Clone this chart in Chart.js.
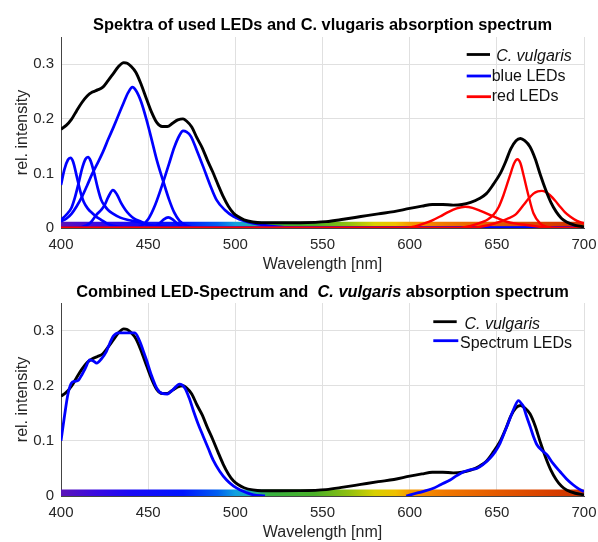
<!DOCTYPE html>
<html><head><meta charset="utf-8">
<script src="https://cdn.jsdelivr.net/npm/chart.js@4.4.1/dist/chart.umd.min.js"></script>
<style>
html,body{margin:0;padding:0;background:#fff;width:598px;height:542px;overflow:hidden}
.wrap{position:absolute;left:0;width:598px}
</style></head><body>
<div class="wrap" style="top:0;height:274px"><canvas id="c1"></canvas></div>
<div class="wrap" style="top:270px;height:272px"><canvas id="c2"></canvas></div>
<script>
// ---------- data ----------
const xTickValues = [400, 450, 500, 550, 600, 650, 700];
const yTickValues = [0, 0.1, 0.2, 0.3];

// C. vulgaris absorption spectrum
const absWl = [400,403,406,409,412,415,418,421,424,427,430,433,436,438,440,443,446,449,452,455,458,461,464,467,470,472,475,478,481,484,487,490,493,496,499,502,505,510,515,525,537,552,562,572,582,591,600,607,613,619,625,630,635,640,644,648,652,655,658,661,663.5,666,669,672,675,678,681,684,687,690,695,700];
const absVals = [0.181,0.188,0.199,0.215,0.230,0.242,0.249,0.253,0.258,0.270,0.283,0.296,0.303,0.302,0.297,0.285,0.263,0.237,0.212,0.193,0.186,0.186,0.192,0.198,0.200,0.196,0.185,0.165,0.147,0.124,0.103,0.080,0.058,0.040,0.027,0.020,0.015,0.011,0.0095,0.0095,0.0097,0.0116,0.016,0.021,0.026,0.030,0.036,0.040,0.043,0.043,0.042,0.043,0.047,0.054,0.063,0.080,0.100,0.121,0.145,0.160,0.164,0.160,0.149,0.127,0.097,0.070,0.047,0.030,0.018,0.011,0.005,0.002];

// blue LEDs
const blue1Wl = [400,402,404,405.4,407,409,411,413,415.5,418,420.5,423,426,430,436,445,700];
const blue1   = [0.079,0.108,0.125,0.1285,0.121,0.095,0.068,0.048,0.035,0.027,0.020,0.015,0.009,0.004,0.001,0,0];
const blue2Wl = [400,403,406,408,410,412,414,415.5,417,419,421,423,425,427,430,434,438,444,450,458,470,700];
const blue2   = [0.015,0.024,0.037,0.056,0.081,0.108,0.126,0.130,0.123,0.101,0.074,0.052,0.041,0.033,0.026,0.019,0.015,0.0115,0.006,0.002,0,0];
const blue3Wl = [400,410,414,417,420.3,423,425,427,429.8,432,434.6,437,439.4,442,446,450,456,465,700];
const blue3   = [0,0,0.004,0.010,0.024,0.033,0.042,0.056,0.0695,0.062,0.045,0.033,0.024,0.017,0.0115,0.006,0.002,0,0];
const blue4Wl = [400,403,406,409,412,415,418,421,424,427,430,433,436,438.5,441,443,446,449,452,455,458.7,462,465,468,472,478,700];
const blue4   = [0.012,0.017,0.026,0.040,0.057,0.078,0.100,0.119,0.139,0.162,0.184,0.207,0.230,0.248,0.258,0.252,0.231,0.199,0.162,0.124,0.085,0.052,0.028,0.013,0.004,0,0];
const blue5Wl = [400,450,454,457,459,461.5,464,466,469,473,700];
const blue5   = [0,0,0.003,0.010,0.016,0.0195,0.016,0.010,0.003,0,0];
const blue6Wl = [400,440,446,450,454,458.7,462,465,468,470,472,474.5,477.8,481.6,485.5,489.3,494,499,506.5,516,525,535,700];
const blue6   = [0,0,0.004,0.016,0.042,0.085,0.118,0.148,0.170,0.178,0.176,0.168,0.143,0.112,0.079,0.051,0.033,0.021,0.0115,0.0055,0.002,0,0];

// red LEDs
const red1Wl = [400,598,603,608,613,617.4,622,627,631.8,636,641,646,651,655.7,661,667.2,675,683,700];
const red1   = [0,0,0.003,0.008,0.014,0.021,0.029,0.036,0.039,0.037,0.031,0.024,0.017,0.0115,0.008,0.0055,0.002,0,0];
const red2Wl = [400,628,635,642.3,645,648,651,653.8,657.6,660,661.8,663.5,665.3,668.1,671,674.8,679,684,700];
const red2   = [0,0,0.004,0.0115,0.016,0.024,0.038,0.060,0.097,0.119,0.126,0.119,0.097,0.060,0.027,0.0085,0.002,0,0];
const red3Wl = [400,635,640,645,651.9,656,660.5,665.3,668,671,673.5,675.8,678,680.5,683.5,686.3,689,692,696,700];
const red3   = [0,0,0.002,0.005,0.0115,0.017,0.024,0.042,0.053,0.063,0.067,0.068,0.066,0.060,0.050,0.039,0.029,0.021,0.013,0.0085];

// combined LED spectrum (gap where no LED emits)
const comboWl = [400,402,404,406,408,410,412,414,416.5,418.5,420.5,423,426,428,430,433,438,442.4,445,447,449,452,455,458,461,464,468,471,473.5,475.8,478.5,481.6,484.5,487.3,491,495,499,502.8,506.5,510.4,517,560,598,605,613.6,618,623.2,627,631,635,638.5,642,646.2,649,651.9,655,657.6,660,662.4,664,665.3,667,669.1,671,673,675.5,678.7,682,686.3,690,693.9,697,700];
const comboVals = [0.100,0.145,0.185,0.205,0.208,0.210,0.220,0.232,0.247,0.245,0.241,0.248,0.262,0.277,0.290,0.296,0.296,0.296,0.282,0.265,0.247,0.218,0.195,0.186,0.185,0.192,0.203,0.196,0.178,0.156,0.132,0.108,0.086,0.065,0.045,0.029,0.018,0.011,0.006,0.002,0,null,0,0.006,0.014,0.021,0.029,0.037,0.044,0.048,0.050,0.057,0.069,0.080,0.096,0.120,0.141,0.160,0.173,0.168,0.162,0.145,0.126,0.108,0.093,0.084,0.075,0.060,0.044,0.031,0.020,0.013,0.008];

// visible-spectrum colour bar
const bandWl = [400,700];
const bandTopTop = [0.0115,0.0115];
const bandTopBottom = 0.0015;
const bandBottomTop = [0.012,0.012];
const bandStops  = [400,420,440,470,490,500,510,520,545,565,580,592,600,620,650,680,700];
const bandColors = ['#5b14b8','#3a0ae0','#1a0af5','#0015ff','#0060f0','#10a0e0','#20b0a8','#38b040','#48b028','#90c010','#d8d000','#f0c000','#f59a00','#f07800','#e45a00','#d84000','#cc3300'];

// ---------- helpers ----------
const FONT = '"Liberation Sans", Arial, sans-serif';
Chart.defaults.font.family = FONT;
Chart.defaults.color = '#262626';

function pts(xs, ys){ return xs.map((x,i)=>({x:x, y:ys[i]})); }
function lineDs(label, xs, ys, color, width, order){
  return {label, data: pts(xs,ys), borderColor: color, borderWidth: width, pointRadius: 0,
          pointHoverRadius:0, fill: false, cubicInterpolationMode: 'monotone', order, spanGaps: false};
}
function bandGradient(ctx){
  const chart = ctx.chart; const xs = chart.scales.x;
  if (!chart.chartArea || !xs) return 'rgba(0,0,0,0)';
  const x0 = xs.getPixelForValue(bandStops[0]);
  const x1 = xs.getPixelForValue(bandStops[bandStops.length-1]);
  const g = chart.ctx.createLinearGradient(x0, 0, x1, 0);
  bandStops.forEach((w,i)=> g.addColorStop((w-bandStops[0])/(bandStops[bandStops.length-1]-bandStops[0]), bandColors[i]));
  return g;
}
function bandDs(ys, base){
  return {label:'band', data: pts(bandWl, ys), borderColor:'rgba(0,0,0,0)', borderWidth:0, pointRadius:0,
          backgroundColor: bandGradient, fill:{value: base}, order: 50};
}
function zeroPad(s){ s.paddingLeft = 0; s.paddingRight = 0; s.paddingTop = 0; s.paddingBottom = 0; }
function scales(xAxisH){
  return {
    x: {type:'linear', min:400, max:700,
        afterBuildTicks: s => { s.ticks = xTickValues.map(v=>({value:v})); },
        afterFit: s => { s.height = xAxisH; zeroPad(s); },
        ticks:{color:'#262626', font:{size:15}, padding:8, maxRotation:0, autoSkip:false, callback: v => String(v)},
        grid:{color:'#e0e0e0', drawTicks:false, lineWidth:1},
        border:{display:true, color:'#444444', width:1},
        title:{display:true, text:'Wavelength [nm]', color:'#262626', font:{size:16}, padding:{top:0,bottom:0}}},
    y: {type:'linear', min:0, max:0.35,
        afterBuildTicks: s => { s.ticks = yTickValues.map(v=>({value:v})); },
        afterFit: s => { s.width = 61; zeroPad(s); },
        ticks:{color:'#262626', font:{size:15}, padding:7, callback: v => v===0 ? '0' : v.toFixed(1)},
        grid:{color:'#e0e0e0', drawTicks:false, lineWidth:1},
        border:{display:true, color:'#444444', width:1},
        title:{display:true, text:'rel. intensity', color:'#262626', font:{size:16}, padding:{top:13,bottom:0}}}
  };
}
function decor(cfg){
  return {
    id:'decor',
    afterDatasetsDraw(chart){
      const ctx = chart.ctx, ca = chart.chartArea;
      ctx.save();
      // title (centered over the plot area)
      const fonts = cfg.title.map(p => (p.italic ? 'italic ' : '') + 'bold 16.4px ' + FONT);
      const widths = cfg.title.map((p,i) => { ctx.font = fonts[i]; return ctx.measureText(p.text).width; });
      const total = widths.reduce((a,b)=>a+b,0);
      let x = (ca.left + ca.right)/2 - total/2;
      ctx.fillStyle = '#000'; ctx.textBaseline = 'alphabetic'; ctx.textAlign = 'left';
      cfg.title.forEach((p,i)=>{ ctx.font = fonts[i]; ctx.fillText(p.text, x, cfg.titleY); x += widths[i]; });
      // legend
      cfg.legend.forEach(r => {
        ctx.strokeStyle = r.color; ctx.lineWidth = 2.8; ctx.lineCap = 'butt';
        ctx.beginPath(); ctx.moveTo(r.x0, r.ly); ctx.lineTo(r.x1, r.ly); ctx.stroke();
        ctx.fillStyle = '#111'; ctx.textBaseline = 'middle';
        ctx.font = (r.italic ? 'italic ' : '') + '16px ' + FONT;
        ctx.fillText(r.text, r.tx, r.ty);
      });
      ctx.restore();
    }
  };
}
const baseOpts = {responsive:true, maintainAspectRatio:false, animation:false,
  events:[], plugins:{legend:{display:false}, tooltip:{enabled:false}, title:{display:false}}};

// ---------- top chart ----------
new Chart(document.getElementById('c1'), {
  type:'line',
  data:{datasets:[
    lineDs('C. vulgaris', absWl, absVals, '#000000', 2.9, 0),
    lineDs('red LEDs', red1Wl, red1, '#ff0000', 2.4, 1),
    lineDs('red LEDs', red2Wl, red2, '#ff0000', 2.4, 1),
    lineDs('red LEDs', red3Wl, red3, '#ff0000', 2.4, 1),
    lineDs('blue LEDs', blue1Wl, blue1, '#0000ff', 2.7, 2),
    lineDs('blue LEDs', blue2Wl, blue2, '#0000ff', 2.7, 2),
    lineDs('blue LEDs', blue3Wl, blue3, '#0000ff', 2.7, 2),
    lineDs('blue LEDs', blue4Wl, blue4, '#0000ff', 2.7, 2),
    lineDs('blue LEDs', blue5Wl, blue5, '#0000ff', 2.7, 2),
    lineDs('blue LEDs', blue6Wl, blue6, '#0000ff', 2.7, 2),
    bandDs(bandTopTop, bandTopBottom)
  ]},
  options:Object.assign({}, baseOpts, {layout:{padding:{top:37,right:14,left:0,bottom:0}}, scales:scales(46)}),
  plugins:[decor({
    titleY:30,
    title:[{text:'Spektra of used LEDs and C. vlugaris absorption spectrum'}],
    legend:[
      {color:'#000000', x0:466.7, x1:490, ly:54.5, tx:491.7, ty:57, text:' C. vulgaris', italic:true},
      {color:'#0000ff', x0:466.7, x1:491, ly:76, tx:491.7, ty:76.5, text:'blue LEDs'},
      {color:'#ff0000', x0:466.7, x1:491, ly:96.7, tx:491.7, ty:97, text:'red LEDs'}
    ]})]
});

// ---------- bottom chart ----------
new Chart(document.getElementById('c2'), {
  type:'line',
  data:{datasets:[
    lineDs('Spectrum LEDs', comboWl, comboVals, '#0000ff', 2.8, 0),
    lineDs('C. vulgaris', absWl, absVals, '#000000', 2.9, 1),
    bandDs(bandBottomTop, 0)
  ]},
  options:Object.assign({}, baseOpts, {layout:{padding:{top:33,right:14,left:0,bottom:0}}, scales:scales(46)}),
  plugins:[decor({
    titleY:26.7,
    title:[{text:'Combined LED-Spectrum and  '},{text:'C. vulgaris',italic:true},{text:' absorption spectrum'}],
    legend:[
      {color:'#000000', x0:433.3, x1:456.7, ly:51.7, tx:460, ty:54.3, text:' C. vulgaris', italic:true},
      {color:'#0000ff', x0:433.3, x1:458.3, ly:70.7, tx:460, ty:73.3, text:'Spectrum LEDs'}
    ]})]
});
</script>
</body></html>
